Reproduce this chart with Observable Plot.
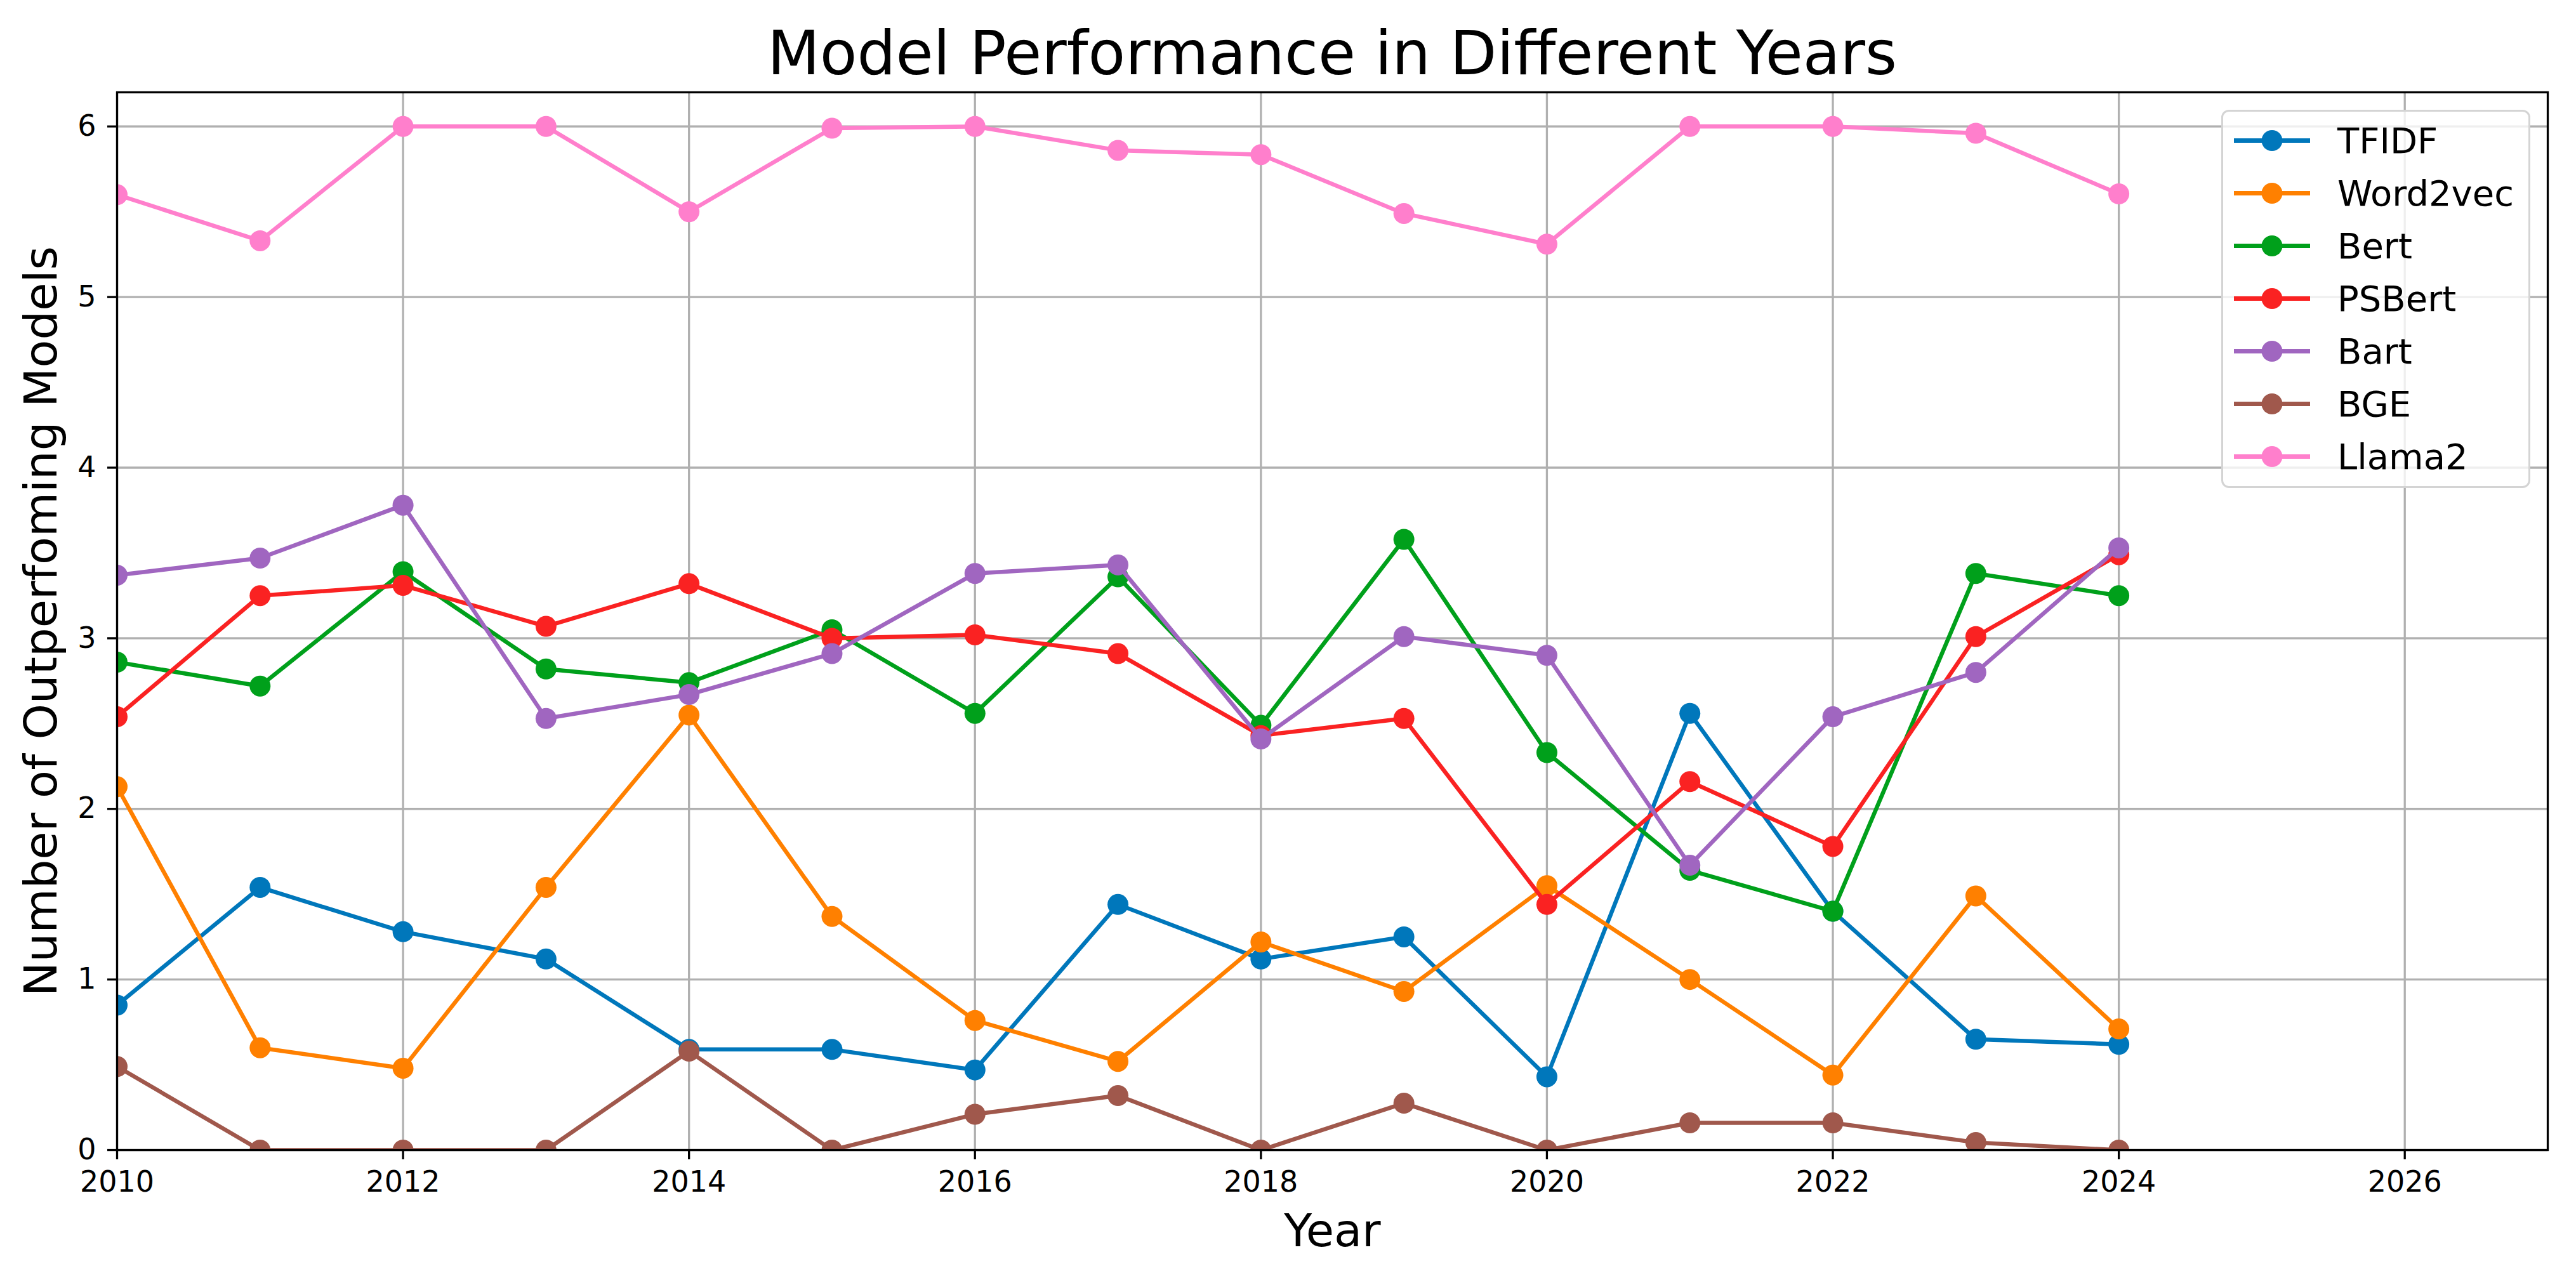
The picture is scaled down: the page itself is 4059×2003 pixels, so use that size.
<!DOCTYPE html>
<html>
<head>
<meta charset="utf-8">
<script src="https://cdn.jsdelivr.net/npm/d3@7"></script>
<script src="https://cdn.jsdelivr.net/npm/@observablehq/plot@0.6"></script>
<style>
  html, body { margin: 0; padding: 0; background: #fff; }
  body { font-family: "DejaVu Sans", sans-serif; }
  #wrap { position: relative; width: 4059px; height: 2003px; overflow: hidden; }
  #title { position: absolute; left: 184px; width: 3830px; top: 36px; text-align: center;
           font-size: 96px; line-height: 96px; color: #000; white-space: nowrap; }
  #chart { position: absolute; left: 0; top: 140px; }
  #legend { position: absolute; left: 3500px; top: 173px; width: 481px; height: 590px;
            border: 3px solid #d4d4d4; border-radius: 12px; background: rgba(255,255,255,0.8); }
  .row { position: absolute; left: 0; height: 83px; width: 100%; }
  .row svg { position: absolute; left: 0; top: 0; }
  .row span { position: absolute; left: 180px; top: 0; line-height: 83px; font-size: 56px; color: #000; white-space: nowrap; }
</style>
</head>
<body>
<div id="wrap">
  <div id="title">Model Performance in Different Years</div>
  <div id="chart"></div>
  <div id="legend"></div>
</div>
<script>
const years = [2010, 2011, 2012, 2013, 2014, 2015, 2016, 2017, 2018, 2019, 2020, 2021, 2022, 2023, 2024];
const models = ["TFIDF", "Word2vec", "Bert", "PSBert", "Bart", "BGE", "Llama2"];
const colors = ["#0077bb", "#ff8000", "#00a01b", "#fa2222", "#a066c0", "#a0584c", "#ff7fcc"];

const tfidf    = [0.85, 1.54, 1.28, 1.12, 0.59, 0.59, 0.47, 1.44, 1.12, 1.25, 0.43, 2.56, 1.40, 0.65, 0.62];
const word2vec = [2.13, 0.60, 0.48, 1.54, 2.55, 1.37, 0.76, 0.52, 1.22, 0.93, 1.55, 1.00, 0.44, 1.49, 0.71];
const bert     = [2.86, 2.72, 3.39, 2.82, 2.74, 3.05, 2.56, 3.36, 2.49, 3.58, 2.33, 1.64, 1.40, 3.38, 3.25];
const psbert   = [2.54, 3.25, 3.31, 3.07, 3.32, 3.00, 3.02, 2.91, 2.43, 2.53, 1.44, 2.16, 1.78, 3.01, 3.49];
const bart     = [3.37, 3.47, 3.78, 2.53, 2.67, 2.91, 3.38, 3.43, 2.41, 3.01, 2.90, 1.67, 2.54, 2.80, 3.53];
const bge      = [0.49, 0.00, 0.00, 0.00, 0.58, 0.00, 0.21, 0.32, 0.00, 0.275, 0.00, 0.16, 0.16, 0.045, 0.00];
const llama2   = [5.60, 5.33, 6.00, 6.00, 5.50, 5.99, 6.00, 5.86, 5.835, 5.49, 5.31, 6.00, 6.00, 5.96, 5.605];

const xTicks = [2010, 2012, 2014, 2016, 2018, 2020, 2022, 2024, 2026];
const yTicks = [0, 1, 2, 3, 4, 5, 6];

const seriesValues = [tfidf, word2vec, bert, psbert, bart, bge, llama2];
const rows = models.flatMap((m, i) => seriesValues[i].map((v, j) => ({year: years[j], value: v, model: m})));

const seriesMarks = models.flatMap(m => {
  const d = rows.filter(r => r.model === m);
  return [
    Plot.line(d, {x: "year", y: "value", stroke: "model", strokeWidth: 6.5, clip: true}),
    Plot.dot(d, {x: "year", y: "value", fill: "model", r: 16.5, stroke: "none", clip: true})
  ];
});

const chart = Plot.plot({
  width: 4059,
  height: 1863,
  marginTop: 5,
  marginBottom: 191,
  marginLeft: 184,
  marginRight: 45,
  style: {fontFamily: "DejaVu Sans, sans-serif", background: "transparent", color: "#000"},
  x: {domain: [2010, 2027]},
  y: {domain: [0, 6.2]},
  color: {domain: models, range: colors},
  marks: [
    Plot.gridX(xTicks, {stroke: "#b0b0b0", strokeOpacity: 1, strokeWidth: 3.3}),
    Plot.gridY(yTicks, {stroke: "#b0b0b0", strokeOpacity: 1, strokeWidth: 3.3}),
    ...seriesMarks,
    Plot.frame({stroke: "#000", strokeWidth: 3.3}),
    Plot.axisX(xTicks, {tickFormat: d => String(d), tickSize: 15, tickPadding: 18, fontSize: 46, strokeWidth: 3.3, label: null}),
    Plot.axisY(yTicks, {tickFormat: d => String(d), tickSize: 15, tickPadding: 18, fontSize: 46, strokeWidth: 3.3, label: null}),
    Plot.text(["Year"], {frameAnchor: "bottom", dy: 151, lineAnchor: "bottom", fontSize: 72, fill: "#000"}),
    Plot.text(["Number of Outperfoming Models"], {frameAnchor: "left", textAnchor: "middle", dx: -119, rotate: -90, fontSize: 72, fill: "#000"})
  ]
});
document.getElementById("chart").appendChild(chart);

// Legend
const legend = document.getElementById("legend");
models.forEach((m, i) => {
  const row = document.createElement("div");
  row.className = "row";
  row.style.top = (4 + i * 83) + "px";
  const ns = "http://www.w3.org/2000/svg";
  const svg = document.createElementNS(ns, "svg");
  svg.setAttribute("width", "170");
  svg.setAttribute("height", "83");
  const line = document.createElementNS(ns, "line");
  line.setAttribute("x1", "17"); line.setAttribute("x2", "137");
  line.setAttribute("y1", "41.5"); line.setAttribute("y2", "41.5");
  line.setAttribute("stroke", colors[i]); line.setAttribute("stroke-width", "7");
  const c = document.createElementNS(ns, "circle");
  c.setAttribute("cx", "77"); c.setAttribute("cy", "41.5"); c.setAttribute("r", "16.5");
  c.setAttribute("fill", colors[i]);
  svg.appendChild(line); svg.appendChild(c);
  const span = document.createElement("span");
  span.textContent = m;
  row.appendChild(svg); row.appendChild(span);
  legend.appendChild(row);
});
</script>
</body>
</html>
